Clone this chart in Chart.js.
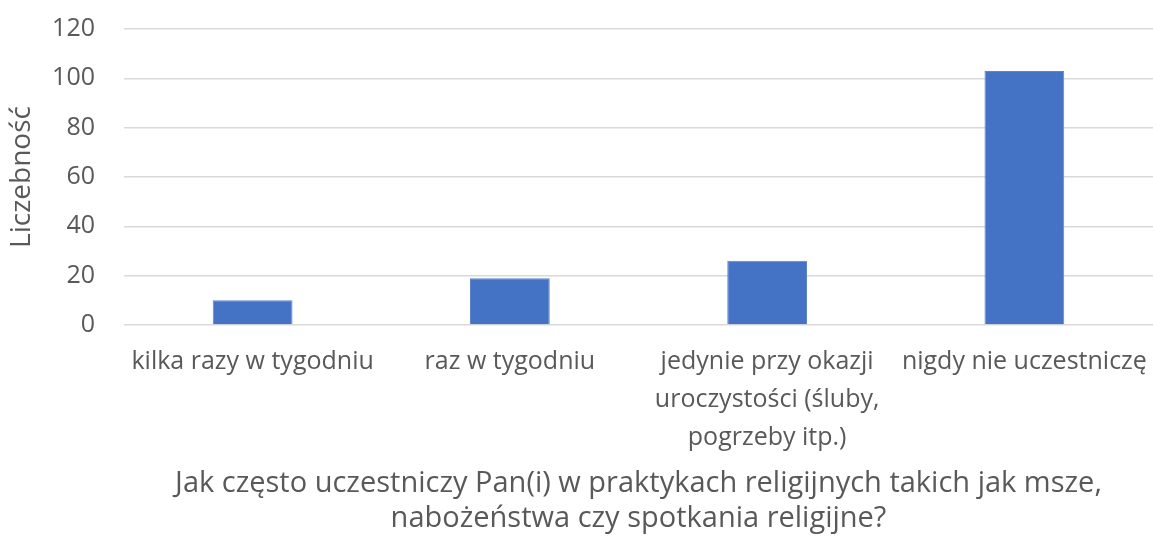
<!DOCTYPE html>
<html>
<head>
<meta charset="utf-8">
<script src="https://cdn.jsdelivr.net/npm/chart.js@4"></script>
<style>
  body { margin: 0; background: #fff; }
  #wrap { width: 1153px; height: 536px; position: relative; }
</style>
</head>
<body>
<div id="wrap"><canvas id="chart"></canvas></div>
<script>
const categories = [
  'kilka razy w tygodniu',
  'raz w tygodniu',
  ['jedynie przy okazji', 'uroczystości (śluby,', 'pogrzeby itp.)'],
  'nigdy nie uczestniczę'
];
const counts = [10, 19, 26, 103];
const yTitle = 'Liczebność';
const xTitle = [
  'Jak często uczestniczy Pan(i) w praktykach religijnych takich jak msze,',
  'nabożeństwa czy spotkania religijne?'
];

const textColor = '#595959';
const gridColor = '#d9d9d9';
const fontFamily = '"Open Sans", sans-serif';

new Chart(document.getElementById('chart'), {
  type: 'bar',
  data: {
    labels: categories,
    datasets: [{
      data: counts,
      backgroundColor: '#4472c4',
      borderColor: '#5b84cc',
      borderWidth: 1,
      barPercentage: 0.31,
      categoryPercentage: 1
    }]
  },
  options: {
    responsive: true,
    maintainAspectRatio: false,
    animation: false,
    layout: { padding: { top: 29, right: 0, left: 0, bottom: 0 } },
    plugins: {
      legend: { display: false },
      tooltip: { enabled: false }
    },
    scales: {
      x: {
        grid: { display: false, drawTicks: false },
        border: { display: false },
        ticks: {
          color: textColor,
          font: { family: fontFamily, size: 25, lineHeight: 1.52 },
          padding: 18,
          maxRotation: 0,
          autoSkip: false
        },
        title: {
          display: true,
          text: xTitle,
          color: textColor,
          font: { family: fontFamily, size: 29, lineHeight: 1.2 },
          padding: { top: 0, bottom: 0 }
        },
        afterFit: (scale) => {
          scale.height = 211;
          scale.paddingLeft = 0;
          scale.paddingRight = 0;
        }
      },
      y: {
        min: 0,
        max: 120,
        ticks: {
          stepSize: 20,
          color: textColor,
          font: { family: fontFamily, size: 25 },
          padding: 29
        },
        grid: { color: gridColor, lineWidth: 1.5, drawTicks: false },
        border: { display: false },
        title: {
          display: true,
          text: yTitle,
          color: textColor,
          font: { family: fontFamily, size: 28 },
          padding: { top: 5, bottom: 0 }
        },
        afterFit: (scale) => {
          scale.width = 124;
          // tick padding would otherwise push the plot top down
          scale.paddingTop = 0;
          scale.paddingBottom = 0;
        }
      }
    }
  }
});
</script>
</body>
</html>
